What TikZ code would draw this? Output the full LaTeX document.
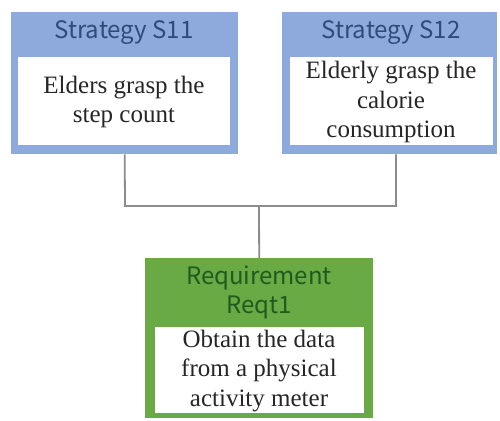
\documentclass[tikz,border=0pt]{standalone}
\usepackage{fontspec}
\setmainfont{Liberation Serif}
\newfontfamily\headfont{Noto Sans CJK JP}
\definecolor{stratblue}{HTML}{8EA9DB}
\definecolor{stratink}{HTML}{2F4B7C}
\definecolor{reqgreen}{HTML}{6AAA45}
\definecolor{reqink}{HTML}{1F5A1F}
\definecolor{linkgray}{HTML}{8C8C8C}
\begin{document}
\begin{tikzpicture}[x=1pt,y=-1pt,
  outerbox/.style={draw=none,inner sep=0pt,anchor=north west},
  innerbox/.style={fill=white,draw=none,inner sep=0pt,anchor=north west},
  headtext/.style={font=\headfont\fontsize{24}{29}\selectfont,align=center,inner sep=0pt},
  bodytext/.style={font=\fontsize{25}{29.5}\selectfont,text=black!85,align=center,inner sep=0pt},
  link/.style={draw=linkgray,line width=1.8pt}]
\useasboundingbox (0,0) rectangle (500,420);
% Strategy S11
\node[outerbox,fill=stratblue,minimum width=227pt,minimum height=142pt] (s11) at (11,12) {};
\node[innerbox,minimum width=212pt,minimum height=88pt] (s11b) at (18,57) {};
\node[headtext,text=stratink] at (124,33) {Strategy S11};
\node[bodytext] at (124,102) {Elders grasp the\\step count};
% Strategy S12
\node[outerbox,fill=stratblue,minimum width=215pt,minimum height=142pt] (s12) at (282,12) {};
\node[innerbox,minimum width=203pt,minimum height=88pt] (s12b) at (290,57) {};
\node[headtext,text=stratink] at (391,33) {Strategy S12};
\node[bodytext] at (391,102) {Elderly grasp the\\calorie\\consumption};
% Requirement Reqt1
\node[outerbox,fill=reqgreen,minimum width=228pt,minimum height=160pt] (req) at (145,258) {};
\node[innerbox,minimum width=209pt,minimum height=86pt] (reqb) at (155,327) {};
\node[headtext,text=reqink] at (259,292) {Requirement\\Reqt1};
\node[bodytext] at (259,371) {Obtain the data\\from a physical\\activity meter};
% connectors
\coordinate (j1) at (125,206);
\coordinate (j2) at (396,206);
\coordinate (jm) at (259,206);
\draw[link] (s11.south) -- (j1) -- (j2) -- (j2 |- s12.south);
\draw[link] (jm) -- (req.north);
\end{tikzpicture}
\end{document}
